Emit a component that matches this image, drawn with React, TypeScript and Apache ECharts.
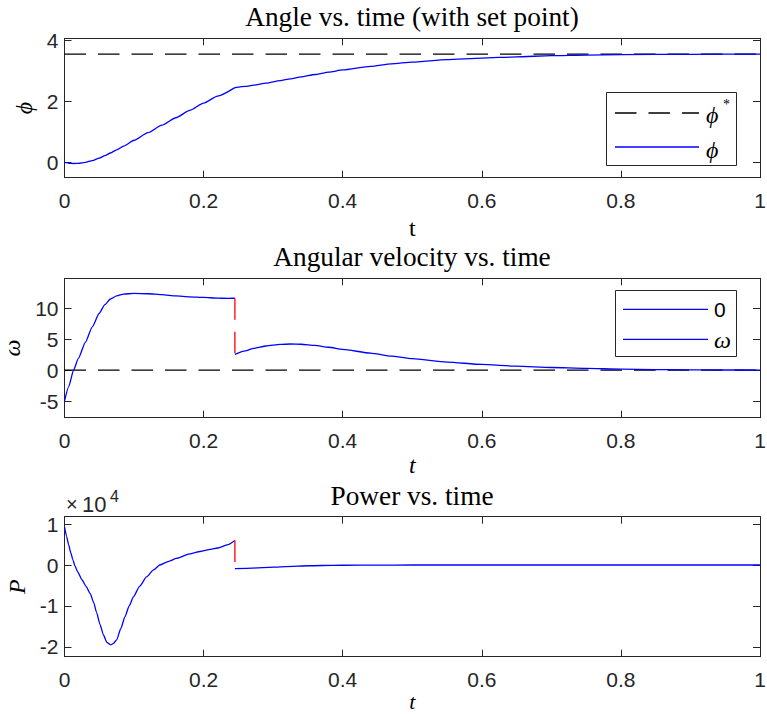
import React, { useEffect, useRef } from "react";
import * as echarts from "echarts";

// ---------- data ----------
const tTicks = [0, 0.2, 0.4, 0.6, 0.8, 1];
const phiTicks = [0, 2, 4];
const omegaTicks = [-5, 0, 5, 10];
const powerTicks = [-20000, -10000, 0, 10000];

const tRange = [0, 1];
const setPoint = 3.56;
const zeroLevel = 0;
const tSwitch = 0.245;

const phiT1 = [0, 0.007, 0.013, 0.02, 0.03, 0.04, 0.05, 0.058, 0.066, 0.075, 0.085, 0.1, 0.12, 0.14, 0.16, 0.18, 0.2, 0.22, 0.245];
const phiV1 = [0, -0.025, -0.033, -0.027, 0.005, 0.063, 0.144, 0.223, 0.311, 0.417, 0.538, 0.73, 0.98, 1.225, 1.47, 1.71, 1.95, 2.18, 2.46];
const phiT2 = [0.245, 0.26, 0.272, 0.29, 0.31, 0.325, 0.34, 0.36, 0.38, 0.4, 0.44, 0.47, 0.5, 0.55, 0.6, 0.65, 0.7, 0.75, 0.8, 0.9, 1];
const phiV2 = [2.46, 2.5, 2.54, 2.61, 2.69, 2.75, 2.81, 2.89, 2.97, 3.04, 3.16, 3.24, 3.3, 3.38, 3.43, 3.47, 3.51, 3.53, 3.545, 3.555, 3.56];

const omegaT1 = [0, 0.006, 0.013, 0.02, 0.03, 0.04, 0.05, 0.058, 0.066, 0.075, 0.085, 0.1, 0.12, 0.14, 0.16, 0.18, 0.2, 0.22, 0.235, 0.245];
const omegaV1 = [-5, -2.7, 0, 1.9, 4.5, 7.0, 9.2, 10.6, 11.5, 12.0, 12.3, 12.4, 12.35, 12.2, 12.0, 11.85, 11.75, 11.65, 11.6, 11.62];
const omegaT2 = [0.245, 0.26, 0.272, 0.29, 0.31, 0.325, 0.34, 0.36, 0.38, 0.4, 0.44, 0.47, 0.5, 0.55, 0.6, 0.65, 0.7, 0.75, 0.8, 0.85, 0.9, 0.95, 1];
const omegaV2 = [2.55, 3.1, 3.5, 3.9, 4.15, 4.22, 4.18, 4.0, 3.7, 3.35, 2.75, 2.25, 1.85, 1.3, 0.92, 0.63, 0.42, 0.27, 0.16, 0.09, 0.05, 0.02, 0.01];

const powerT1 = [0, 0.003, 0.006, 0.009, 0.012, 0.015, 0.019, 0.025, 0.031, 0.037, 0.042, 0.046, 0.051, 0.056, 0.061, 0.066, 0.07, 0.075, 0.081, 0.087, 0.093, 0.099, 0.108, 0.118, 0.128, 0.137, 0.15, 0.161, 0.18, 0.195, 0.21, 0.22, 0.235, 0.245];
const powerV1 = [9300, 7000, 4900, 3000, 1300, -200, -1700, -3600, -5200, -7000, -9200, -11500, -14500, -17100, -18900, -19500, -19200, -18300, -15500, -12600, -10000, -7800, -5200, -2900, -1200, 0, 900, 1600, 2700, 3300, 3800, 4150, 5000, 6000];
const powerT2 = [0.245, 0.27, 0.3, 0.335, 0.37, 0.4, 0.45, 0.5, 0.6, 0.8, 1];
const powerV2 = [-900, -750, -500, -250, -120, -60, -20, 0, 0, 0, 0];

// ---------- style ----------
const SERIF = "'Liberation Serif', 'Times New Roman', 'DejaVu Serif', serif";
const SANS = "'Liberation Sans', Arial, Helvetica, sans-serif";
const AXC = "#262626";
const BLUE = "#0000ff";
const RED = "#ff0000";
const DASH = [21.5, 12];
const LW = 1.3;
const TICK_FS = 21;
const TITLE_FS = 27.3;

const zip = (t: number[], v: number[]) => t.map((x, i) => [x, v[i]]);

function xAxesFor(gridIndex: number, name: string, italic: boolean, nameGap: number, fontSize: number, lineHeight: number) {
  const common = {
    type: "value",
    gridIndex,
    min: tRange[0],
    max: tRange[1],
    interval: 0.2,
    splitLine: { show: false },
    axisLine: { show: true, onZero: false, lineStyle: { color: AXC, width: 1 } },
    axisTick: { show: true, inside: true, length: 7, lineStyle: { color: AXC, width: 1 } },
  };
  return [
    {
      ...common,
      position: "bottom",
      axisLabel: {
        show: true,
        margin: 12,
        color: AXC,
        fontFamily: SANS,
        fontSize: TICK_FS,
        formatter: (v: number) => String(Math.round(v * 10) / 10),
        customValues: tTicks,
      },
      name,
      nameLocation: "middle",
      nameGap,
      nameTextStyle: { fontFamily: SERIF, fontSize, lineHeight, fontStyle: italic ? "italic" : "normal", color: "#000" },
    },
    { ...common, position: "top", axisLabel: { show: false } },
  ];
}

function yAxesFor(gridIndex: number, min: number, max: number, ticks: number[], name: string, nameGap: number, scale: number) {
  const common = {
    type: "value",
    gridIndex,
    min,
    max,
    splitLine: { show: false },
    axisLine: { show: true, onZero: false, lineStyle: { color: AXC, width: 1 } },
    axisTick: { show: true, inside: true, length: 7, customValues: ticks, lineStyle: { color: AXC, width: 1 } },
  };
  return [
    {
      ...common,
      position: "left",
      axisLabel: {
        show: true,
        margin: 6,
        color: AXC,
        fontFamily: SANS,
        fontSize: TICK_FS,
        customValues: ticks,
        formatter: (v: number) => String(Math.round((v / scale) * 100) / 100),
      },
      name,
      nameLocation: "middle",
      nameRotate: 90,
      nameGap,
      nameTextStyle: { fontFamily: SERIF, fontSize: 24, fontStyle: "italic", color: "#000" },
    },
    { ...common, position: "right", axisLabel: { show: false } },
  ];
}

function line(xi: number, data: number[][], color: string, dashed: boolean, z = 2) {
  return {
    type: "line",
    xAxisIndex: xi,
    yAxisIndex: xi,
    data,
    showSymbol: false,
    symbol: "none",
    smooth: dashed ? false : 0.2,
    smoothMonotone: "x",
    clip: true,
    z,
    lineStyle: { color, width: LW, type: dashed ? DASH : "solid", join: "round" },
    emphasis: { disabled: true },
  };
}

function titleAt(text: string, top: number) {
  return {
    text,
    left: 412,
    top,
    textAlign: "center",
    padding: 0,
    textStyle: { fontFamily: SERIF, fontSize: TITLE_FS, fontWeight: "normal", color: "#000" },
  };
}

const serifItalic = (size: number) => ({ fontFamily: SERIF, fontSize: size, fontStyle: "italic", fill: "#000" });

export default function App() {
  const ref = useRef<HTMLDivElement>(null);
  useEffect(() => {
    if (!ref.current) return;
    const chart = echarts.init(ref.current, null, { renderer: "svg" });
    const option: any = {
      animation: false,
      backgroundColor: "#ffffff",
      title: [
        titleAt("Angle vs. time (with set point)", 3.5),
        titleAt("Angular velocity vs. time", 243.5),
        titleAt("Power vs. time", 482),
      ],
      grid: [
        { left: 64.5, right: 7, top: 38.3, height: 139.4, containLabel: false, outerBoundsMode: "none" },
        { left: 64.5, right: 7, top: 278.3, height: 139.4, containLabel: false, outerBoundsMode: "none" },
        { left: 64.5, right: 7, top: 516.7, height: 140, containLabel: false, outerBoundsMode: "none" },
      ],
      xAxis: [
        ...xAxesFor(0, "t", false, 39, 24, 22),
        ...xAxesFor(1, "t", true, 36, 24, 22),
        ...xAxesFor(2, "t", true, 35, 22, 16),
      ],
      yAxis: [
        ...yAxesFor(0, -0.5, 4.08, phiTicks, "\u03D5", 23, 1),
        ...yAxesFor(1, -7.7, 14.85, omegaTicks, "\u03C9", 37, 1),
        ...yAxesFor(2, -22400, 11800, powerTicks, "P", 36, 10000),
      ],
      series: [
        line(0, zip(tRange, [setPoint, setPoint]), "#000000", true, 1),
        line(0, zip(phiT1, phiV1), BLUE, false),
        line(0, zip(phiT2, phiV2), BLUE, false),

        line(2, zip(tRange, [zeroLevel, zeroLevel]), "#000000", true, 1),
        line(2, zip(omegaT1, omegaV1), BLUE, false),
        line(2, zip(omegaT2, omegaV2), BLUE, false),
        line(2, [[tSwitch, omegaV1[omegaV1.length - 1]], [tSwitch, omegaV2[0]]], RED, true, 3),

        line(4, zip(powerT1, powerV1), BLUE, false),
        line(4, zip(powerT2, powerV2), BLUE, false),
        line(4, [[tSwitch, powerV1[powerV1.length - 1]], [tSwitch, powerV2[0]]], RED, true, 3),
      ],
      graphic: [
        // legend 1
        { type: "rect", z: 100, shape: { x: 606.5, y: 92.5, width: 130, height: 73 }, style: { fill: "#fff", stroke: AXC, lineWidth: 1 } },
        { type: "line", z: 101, shape: { x1: 615, y1: 113, x2: 699, y2: 113 }, style: { stroke: "#000", lineWidth: LW, lineDash: DASH } },
        { type: "text", z: 101, x: 706, y: 115, style: { text: "\u03D5", ...serifItalic(24), align: "left", verticalAlign: "middle" } },
        { type: "text", z: 101, x: 723, y: 104, style: { text: "*", fontFamily: SERIF, fontSize: 14, fill: "#000", align: "left", verticalAlign: "middle" } },
        { type: "line", z: 101, shape: { x1: 615, y1: 147, x2: 699, y2: 147 }, style: { stroke: BLUE, lineWidth: LW } },
        { type: "text", z: 101, x: 706, y: 150, style: { text: "\u03D5", ...serifItalic(24), align: "left", verticalAlign: "middle" } },
        // legend 2
        { type: "rect", z: 100, shape: { x: 615.5, y: 290.5, width: 121, height: 66 }, style: { fill: "#fff", stroke: AXC, lineWidth: 1 } },
        { type: "line", z: 101, shape: { x1: 623, y1: 309.3, x2: 708, y2: 309.3 }, style: { stroke: BLUE, lineWidth: LW } },
        { type: "text", z: 101, x: 714, y: 309.5, style: { text: "0", fontFamily: SANS, fontSize: TICK_FS, fill: "#000", align: "left", verticalAlign: "middle" } },
        { type: "line", z: 101, shape: { x1: 623, y1: 339.3, x2: 708, y2: 339.3 }, style: { stroke: BLUE, lineWidth: LW } },
        { type: "text", z: 101, x: 714, y: 340, style: { text: "\u03C9", ...serifItalic(24), align: "left", verticalAlign: "middle" } },
        // exponent label  ×10^4
        { type: "text", z: 101, x: 66, y: 504, style: { text: "\u00D7", fontFamily: SANS, fontSize: 20, fill: AXC, align: "left", verticalAlign: "middle" } },
        { type: "text", z: 101, x: 82, y: 504, style: { text: "10", fontFamily: SANS, fontSize: 22, fill: AXC, align: "left", verticalAlign: "middle" } },
        { type: "text", z: 101, x: 110, y: 496, style: { text: "4", fontFamily: SANS, fontSize: 16, fill: AXC, align: "left", verticalAlign: "middle" } },
      ],
    };
    chart.setOption(option);
    return () => chart.dispose();
  }, []);
  return <div ref={ref} style={{ position: "absolute", left: 0, top: 0, width: 767, height: 714 }} />;
}
